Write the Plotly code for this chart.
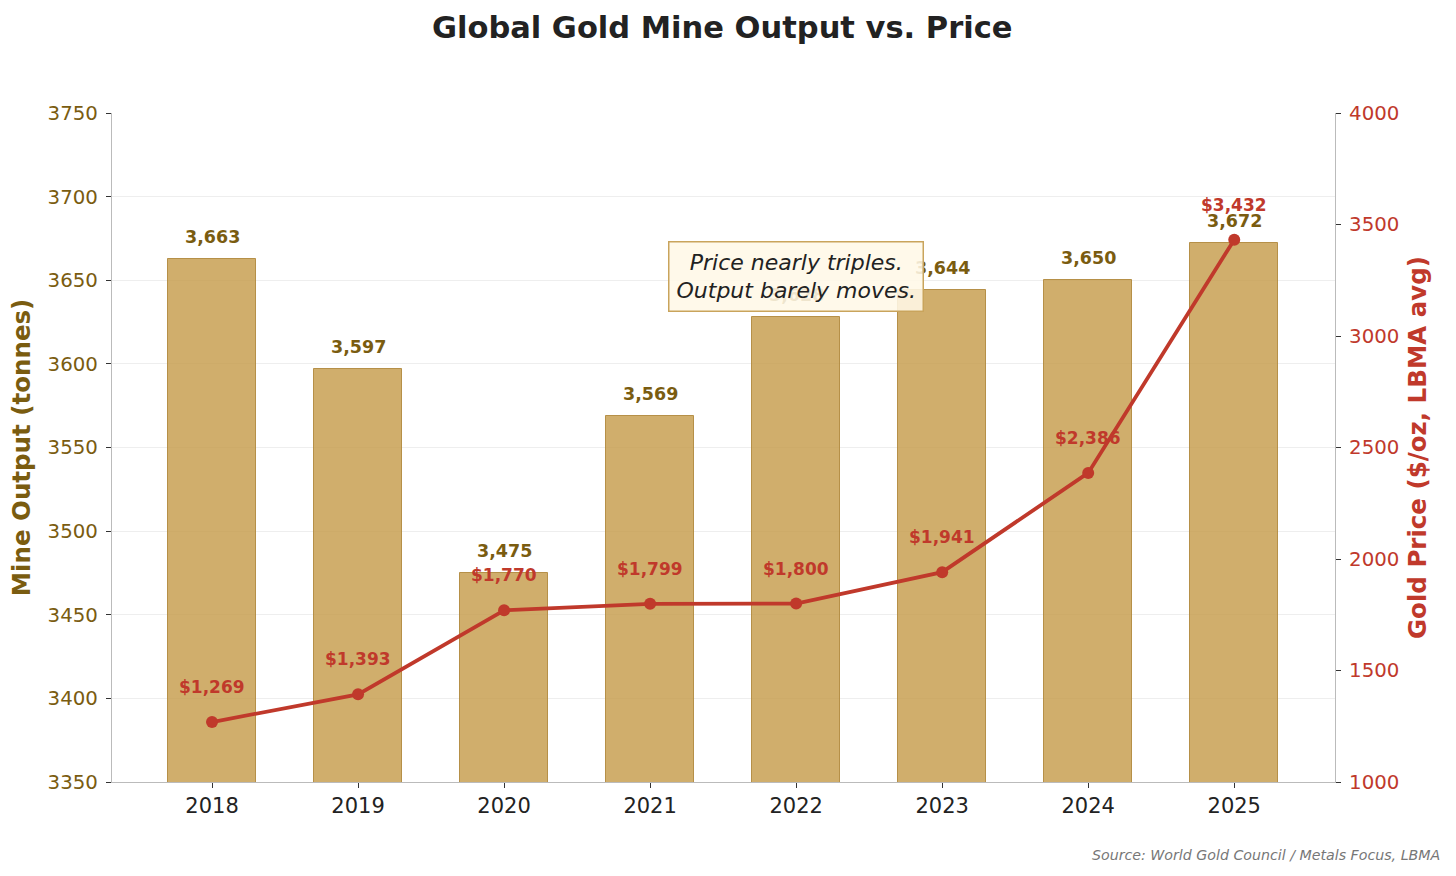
import plotly.graph_objects as go

years = ["2018", "2019", "2020", "2021", "2022", "2023", "2024", "2025"]
output_t = [3663, 3597, 3475, 3569, 3628, 3644, 3650, 3672]
price = [1269, 1393, 1770, 1799, 1800, 1941, 2386, 3432]

GOLD_TXT = "#7A5C10"
RED = "#C0392B"
FONT = "DejaVu Sans"

xs = list(range(len(years)))

fig = go.Figure()
fig.add_trace(go.Bar(
    x=xs, y=output_t, width=0.6,
    marker=dict(color="rgba(198,156,76,0.82)", line=dict(color="rgba(176,136,60,0.9)", width=1)),
    yaxis="y", showlegend=False, hoverinfo="skip",
))
fig.add_trace(go.Scatter(
    x=xs, y=price, mode="lines+markers", yaxis="y2",
    line=dict(color=RED, width=3.8),
    marker=dict(color=RED, size=12),
    showlegend=False, hoverinfo="skip",
))

anns = []
for x, v in zip(xs, output_t):
    anns.append(dict(x=x, y=v, xref="x", yref="y", text=f"<b>{v:,}</b>", showarrow=False,
                     yshift=22, font=dict(family=FONT, size=17.5, color=GOLD_TXT)))
for x, p in zip(xs, price):
    anns.append(dict(x=x, y=p, xref="x", yref="y2", text=f"<b>${p:,}</b>", showarrow=False,
                     yshift=35, font=dict(family=FONT, size=17, color=RED)))
anns.append(dict(x=4.0, y=3652, xref="x", yref="y",
                 text="<i>Price nearly triples.<br>Output barely moves.</i>",
                 showarrow=False, font=dict(family=FONT, size=22, color="#222222"),
                 bgcolor="rgba(255,248,231,0.88)", bordercolor="#C9A45C", borderwidth=1.5,
                 borderpad=7, xanchor="center", yanchor="middle"))
anns.append(dict(x=1.0, y=0, xref="paper", yref="paper", xanchor="right", yanchor="top",
                 text="<i>Source: World Gold Council / Metals Focus, LBMA</i>", showarrow=False,
                 xshift=107, yshift=-63, font=dict(family=FONT, size=14.2, color="#777777")))

fig.update_layout(
    width=1456, height=876,
    margin=dict(l=112, r=121, t=113, b=94),
    paper_bgcolor="white", plot_bgcolor="white",
    font=dict(family=FONT),
    title=dict(text="<b>Global Gold Mine Output vs. Price</b>", x=0.496, xanchor="center",
               y=0.969, yanchor="middle", font=dict(family=FONT, size=30.5, color="#222222")),
    xaxis=dict(tickmode="array", tickvals=xs, ticktext=years, range=[-0.685, 7.69],
               showline=True, linecolor="#BBBBBB", linewidth=1.2, ticks="outside",
               ticklen=5, tickcolor="#333333", showgrid=False,
               tickfont=dict(family=FONT, size=21, color="#222222")),
    yaxis=dict(range=[3350, 3750], tickvals=[3350, 3400, 3450, 3500, 3550, 3600, 3650, 3700, 3750],
               showline=True, linecolor="#BBBBBB", linewidth=1.2, ticks="outside",
               ticklen=5, tickcolor="#333333", showgrid=True, gridcolor="#EEEEEE",
               zeroline=False, ticklabelstandoff=4,
               tickfont=dict(family=FONT, size=19.8, color=GOLD_TXT),
               title=dict(text="<b>Mine Output (tonnes)</b>", standoff=10,
                          font=dict(family=FONT, size=24.5, color=GOLD_TXT))),
    yaxis2=dict(range=[1000, 4000], tickvals=[1000, 1500, 2000, 2500, 3000, 3500, 4000],
                overlaying="y", side="right",
                showline=True, linecolor="#BBBBBB", linewidth=1.2, ticks="outside",
                ticklen=5, tickcolor="#333333", showgrid=False, zeroline=False,
                ticklabelstandoff=4,
                tickfont=dict(family=FONT, size=19.8, color=RED),
                title=dict(text="<b>Gold Price ($/oz, LBMA avg)</b>", standoff=10,
                           font=dict(family=FONT, size=24.5, color=RED))),
    annotations=anns,
    bargap=0,
)

fig.write_html("out.html")
